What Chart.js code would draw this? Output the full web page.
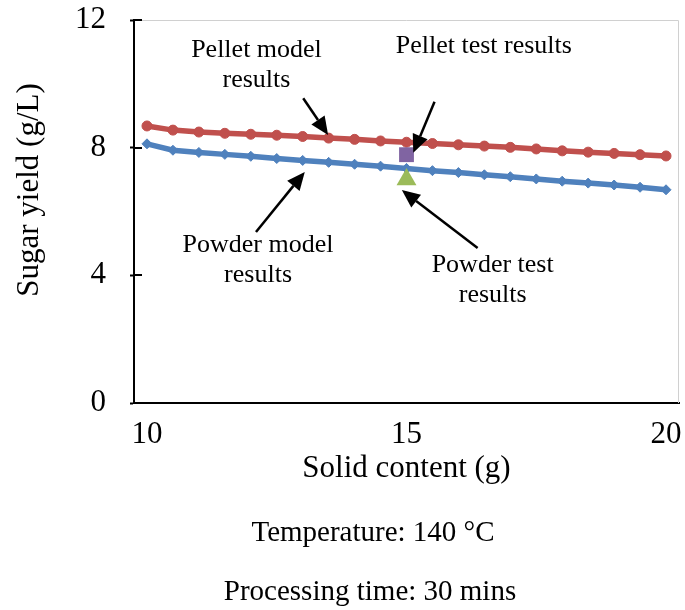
<!DOCTYPE html>
<html>
<head>
<meta charset="utf-8">
<title>Sugar yield vs solid content</title>
<script src="https://cdn.jsdelivr.net/npm/chart.js@4.4.1/dist/chart.umd.min.js"></script>
<style>
    html, body { margin: 0; padding: 0; background: #fff; }
    #wrap { width: 685px; height: 610px; }
</style>
</head>
<body>
<div id="wrap"><canvas id="mainChart" width="685" height="610"></canvas></div>
<script>
// ============ DATA ============

const solidContent = [10, 10.5, 11, 11.5, 12, 12.5, 13, 13.5, 14, 14.5, 15,
                      15.5, 16, 16.5, 17, 17.5, 18, 18.5, 19, 19.5, 20];
const pelletModel = [8.68, 8.55, 8.49, 8.45, 8.42, 8.39, 8.35, 8.30, 8.26, 8.21, 8.17,
                     8.13, 8.09, 8.05, 8.01, 7.96, 7.90, 7.86, 7.82, 7.78, 7.74];
const powderModel = [8.12, 7.92, 7.85, 7.79, 7.73, 7.66, 7.60, 7.54, 7.48, 7.42, 7.35,
                     7.28, 7.22, 7.15, 7.09, 7.02, 6.95, 6.89, 6.83, 6.76, 6.68];

const testSolid = [15];
const pelletTest = [7.78];
const powderTest = [7.0];

const xTicks = [10, 15, 20];
const yTicks = [0, 4, 8, 12];

const xTitle = 'Solid content (g)';
const yTitle = 'Sugar yield (g/L)';
const footLines = ['Temperature: 140 \u00B0C', 'Processing time: 30 mins'];

// callouts in data units (text centre, arrow tail -> arrow tip)
const notes = [
    { lines: ['Pellet model', 'results'], x: 12.11, y: 11.06 },
    { lines: ['Pellet test results'], x: 16.49, y: 11.18 },
    { lines: ['Powder model', 'results'], x: 12.14, y: 4.95 },
    { lines: ['Powder test', 'results'], x: 16.66, y: 4.32 }
];
const arrows = [
    { from: [13.01, 9.55], to: [13.49, 8.40] },
    { from: [15.54, 9.44], to: [15.13, 7.84] },
    { from: [12.10, 5.36], to: [13.04, 7.24] },
    { from: [16.37, 4.86], to: [14.91, 6.67] }
];

const serif = "'Liberation Serif', 'Times New Roman', serif";
Chart.defaults.font.family = serif;
Chart.defaults.color = '#000';

const toPoints = (xs, ys) => xs.map((x, i) => ({ x: x, y: ys[i] }));

// ============ EXTRA DRAWING ============

const extras = {
    id: 'extras',
    beforeDatasetsDraw(chart) {
        const { ctx, chartArea: a, scales: { y } } = chart;
        ctx.save();
        // light frame on top / right
        ctx.strokeStyle = '#d0d0d0';
        ctx.lineWidth = 1;
        ctx.beginPath();
        ctx.moveTo(a.left, a.top + 0.5);
        ctx.lineTo(a.right - 0.5, a.top + 0.5);
        ctx.lineTo(a.right - 0.5, a.bottom);
        ctx.stroke();
        // inner half of the cross tick marks
        ctx.strokeStyle = '#000';
        ctx.lineWidth = 2;
        yTicks.forEach(v => {
            const py = Math.round(y.getPixelForValue(v));
            ctx.beginPath();
            ctx.moveTo(a.left, py);
            ctx.lineTo(a.left + 8, py);
            ctx.stroke();
        });
        ctx.restore();
    },
    afterDatasetsDraw(chart) {
        const { ctx, scales: { x, y } } = chart;
        ctx.save();
        ctx.fillStyle = '#000';
        ctx.strokeStyle = '#000';

        // arrows
        arrows.forEach(ar => {
            const x0 = x.getPixelForValue(ar.from[0]), y0 = y.getPixelForValue(ar.from[1]);
            const x1 = x.getPixelForValue(ar.to[0]), y1 = y.getPixelForValue(ar.to[1]);
            const ang = Math.atan2(y1 - y0, x1 - x0);
            const head = 18, half = 8;
            const bx = x1 - Math.cos(ang) * head, by = y1 - Math.sin(ang) * head;
            ctx.lineWidth = 2.5;
            ctx.beginPath();
            ctx.moveTo(x0, y0);
            ctx.lineTo(bx, by);
            ctx.stroke();
            ctx.beginPath();
            ctx.moveTo(x1, y1);
            ctx.lineTo(bx + Math.sin(ang) * half, by - Math.cos(ang) * half);
            ctx.lineTo(bx - Math.sin(ang) * half, by + Math.cos(ang) * half);
            ctx.closePath();
            ctx.fill();
        });

        // callout text
        ctx.font = '26px ' + serif;
        ctx.textAlign = 'center';
        ctx.textBaseline = 'middle';
        notes.forEach(n => {
            const cx = x.getPixelForValue(n.x), cy = y.getPixelForValue(n.y);
            n.lines.forEach((t, i) => ctx.fillText(t, cx, cy + i * 30));
        });
        ctx.restore();
    },
    afterDraw(chart) {
        const { ctx } = chart;
        ctx.save();
        ctx.fillStyle = '#000';
        ctx.textAlign = 'center';
        ctx.textBaseline = 'middle';
        // y axis title
        ctx.font = '31px ' + serif;
        ctx.translate(30, 190);
        ctx.rotate(-Math.PI / 2);
        ctx.fillText(yTitle, 0, 0);
        ctx.restore();

        ctx.save();
        ctx.fillStyle = '#000';
        ctx.textAlign = 'center';
        ctx.textBaseline = 'middle';
        ctx.font = '29px ' + serif;
        ctx.fillText(footLines[0], 373, 533);
        ctx.fillText(footLines[1], 370, 592);
        ctx.restore();
    }
};

// ============ CHART ============

const ctx = document.getElementById('mainChart').getContext('2d');

const chart = new Chart(ctx, {
    type: 'line',
    data: {
        datasets: [
            {
                label: 'Pellet test results',
                data: toPoints(testSolid, pelletTest),
                showLine: false,
                pointStyle: 'rect',
                pointRadius: 10.5,
                backgroundColor: '#8064A2',
                borderColor: '#8064A2',
                borderWidth: 0,
                order: 0
            },
            {
                label: 'Powder test results',
                data: toPoints(testSolid, powderTest),
                showLine: false,
                pointStyle: 'triangle',
                pointRadius: 11.5,
                backgroundColor: '#9BBB59',
                borderColor: '#9BBB59',
                borderWidth: 0,
                order: 0
            },
            {
                label: 'Pellet model results',
                data: toPoints(solidContent, pelletModel),
                borderColor: '#C0504D',
                backgroundColor: '#C0504D',
                borderWidth: 5.5,
                pointStyle: 'circle',
                pointRadius: 5,
                pointBorderWidth: 1,
                tension: 0,
                order: 1
            },
            {
                label: 'Powder model results',
                data: toPoints(solidContent, powderModel),
                borderColor: '#4F81BD',
                backgroundColor: '#4F81BD',
                borderWidth: 5.5,
                pointStyle: 'rectRot',
                pointRadius: 5,
                pointBorderWidth: 1,
                tension: 0,
                order: 2
            }
        ]
    },
    options: {
        responsive: false,
        animation: false,
        layout: { autoPadding: false, padding: { left: 0, right: 6, top: 20, bottom: 107 } },
        scales: {
            x: {
                type: 'linear',
                min: 9.75,
                max: 20.25,
                afterBuildTicks: s => { s.ticks = xTicks.map(v => ({ value: v })); },
                afterFit: s => { s.height = 100; s.paddingLeft = 0; s.paddingRight = 0; },
                grid: { drawOnChartArea: false, drawTicks: false },
                border: { color: '#000', width: 2 },
                ticks: { font: { size: 31 }, padding: 13, maxRotation: 0 },
                title: {
                    display: true,
                    text: xTitle,
                    font: { size: 31 },
                    padding: { top: 0, bottom: 16 }
                }
            },
            y: {
                min: 0,
                max: 12,
                afterBuildTicks: s => { s.ticks = yTicks.map(v => ({ value: v })); },
                afterFit: s => { s.width = 134; s.paddingTop = 0; s.paddingBottom = 0; },
                grid: { drawOnChartArea: false, drawTicks: true, tickLength: 4, tickColor: '#000', tickWidth: 2 },
                border: { color: '#000', width: 2 },
                ticks: { font: { size: 31 }, padding: 24 }
            }
        },
        plugins: {
            legend: { display: false },
            tooltip: { enabled: false }
        }
    },
    plugins: [extras]
});
</script>
</body>
</html>
